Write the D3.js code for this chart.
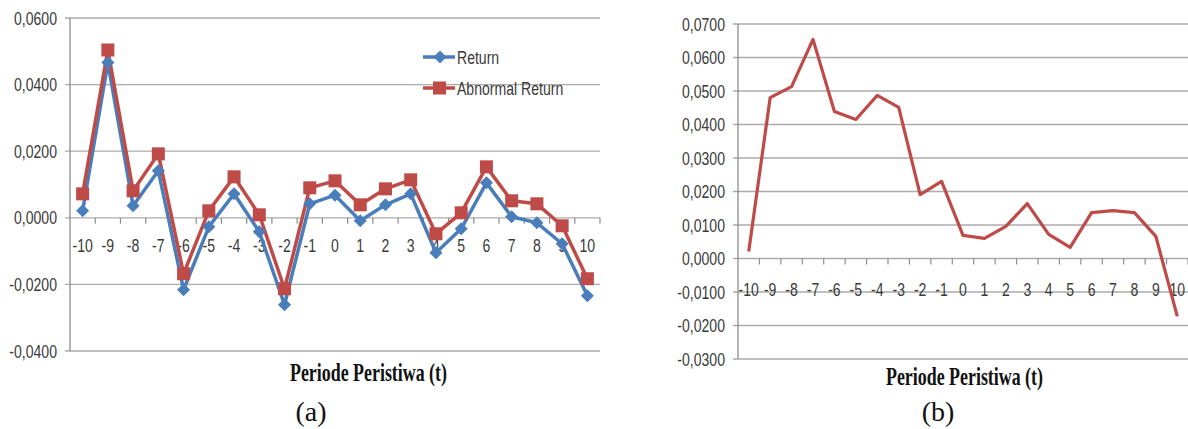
<!DOCTYPE html>
<html>
<head>
<meta charset="utf-8">
<script src="https://cdn.jsdelivr.net/npm/d3@7"></script>
<style>
  body { margin: 0; background: #fff; }
  svg { display: block; }
  .tick-label { font-family: "Liberation Sans", Arial, sans-serif; font-size: 19px; fill: #3a3a3a; }
  .title { font-family: "Liberation Serif", "Times New Roman", serif; font-weight: bold; font-size: 25px; fill: #111; }
  .caption { font-family: "Liberation Serif", "Times New Roman", serif; font-size: 28px; fill: #111; }
</style>
</head>
<body>
<script>
const width = 1188;
const height = 429;

// data
const periods = ["-10","-9","-8","-7","-6","-5","-4","-3","-2","-1","0","1","2","3","4","5","6","7","8","9","10"];
const returnA = [0.0021,0.0466,0.0036,0.0141,-0.0216,-0.0027,0.0072,-0.0042,-0.0261,0.0042,0.0068,-0.0009,0.0039,0.0072,-0.0105,-0.0033,0.0105,0.0003,-0.0015,-0.0078,-0.0234];
const abnormalA = [0.0072,0.0504,0.0081,0.0192,-0.0168,0.0021,0.0123,0.0009,-0.0213,0.0090,0.0111,0.0039,0.0087,0.0114,-0.0048,0.0015,0.0153,0.0051,0.0042,-0.0024,-0.0183];
const seriesB = [0.0021,0.0480,0.0513,0.0654,0.0439,0.0415,0.0487,0.0451,0.0191,0.0230,0.0069,0.0060,0.0096,0.0164,0.0072,0.0033,0.0137,0.0143,0.0137,0.0066,-0.0173];
const ticksA = [0.06,0.04,0.02,0,-0.02,-0.04];
const ticksB = [0.07,0.06,0.05,0.04,0.03,0.02,0.01,0,-0.01,-0.02,-0.03];

const blue = "#4a7ebb";
const red = "#be4b48";
const gridColor = "#ababab";
const squeeze = 0.74; // labels are horizontally condensed
const fmt = v => d3.format(".4f")(v).replace(".", ",").replace("−", "-");

const svg = d3.select("body").append("svg")
  .attr("width", width)
  .attr("height", height);

// draws one panel: grid, axes, labels
function panel(cfg) {
  const g = svg.append("g");
  const x = d3.scaleBand().domain(periods).range([cfg.left, cfg.right]).padding(0);
  const y = d3.scaleLinear().domain(cfg.domain).range([cfg.bottom, cfg.top]);

  // gridlines
  g.selectAll(".grid").data(cfg.ticks).enter().append("line")
    .attr("x1", cfg.left - 5).attr("x2", cfg.right)
    .attr("y1", d => y(d)).attr("y2", d => y(d))
    .attr("stroke", gridColor).attr("stroke-width", 1.3);

  // y axis line
  g.append("line")
    .attr("x1", cfg.left).attr("x2", cfg.left)
    .attr("y1", cfg.top).attr("y2", cfg.bottom)
    .attr("stroke", "#8c8c8c").attr("stroke-width", 1.3);

  // y labels
  g.selectAll(".ylab").data(cfg.ticks).enter().append("text")
    .attr("class", "tick-label")
    .attr("transform", d => `translate(${cfg.left - 13},${y(d)}) scale(${squeeze},1)`)
    .attr("dy", "0.35em")
    .attr("text-anchor", "end")
    .text(fmt);

  // x ticks on zero line
  const bounds = d3.range(1, periods.length + 1).map(i => cfg.left + i * x.bandwidth());
  g.selectAll(".xtick").data(bounds).enter().append("line")
    .attr("x1", d => d).attr("x2", d => d)
    .attr("y1", y(0)).attr("y2", y(0) + 6)
    .attr("stroke", "#8c8c8c").attr("stroke-width", 1.2);

  // x labels
  g.selectAll(".xlab").data(periods).enter().append("text")
    .attr("class", "tick-label")
    .attr("transform", d => `translate(${x(d) + x.bandwidth() / 2},${cfg.labelY}) scale(${squeeze},1)`)
    .attr("dy", "0.35em")
    .attr("text-anchor", "middle")
    .text(d => d);

  // axis title
  g.append("text")
    .attr("class", "title")
    .attr("x", cfg.titleX - 78)
    .attr("y", cfg.titleY)
    .attr("textLength", 157)
    .attr("lengthAdjust", "spacingAndGlyphs")
    .text("Periode Peristiwa (t)");

  // caption
  g.append("text")
    .attr("class", "caption")
    .attr("x", cfg.capX)
    .attr("y", 421)
    .attr("text-anchor", "middle")
    .text(cfg.caption);

  return { g, x, y };
}

/* == panel (a) == */
const a = panel({
  left: 70, right: 600, top: 18, bottom: 351,
  domain: [-0.04, 0.06], ticks: ticksA,
  labelY: 245, titleX: 368, titleY: 381, capX: 311, caption: "(a)"
});

const lineA = d3.line()
  .x((d, i) => a.x(periods[i]) + a.x.bandwidth() / 2)
  .y(d => a.y(d));

a.g.append("path").datum(returnA)
  .attr("fill", "none").attr("stroke", blue).attr("stroke-width", 3.5)
  .attr("stroke-linejoin", "round")
  .attr("d", lineA);
a.g.append("path").datum(abnormalA)
  .attr("fill", "none").attr("stroke", red).attr("stroke-width", 3.5)
  .attr("stroke-linejoin", "round")
  .attr("d", lineA);

const diamond = d3.symbol().type(d3.symbolSquare).size(85);
a.g.selectAll(".ret").data(returnA).enter().append("path")
  .attr("transform", (d, i) => `translate(${a.x(periods[i]) + a.x.bandwidth() / 2},${a.y(d)}) rotate(45)`)
  .attr("d", diamond)
  .attr("fill", blue);
a.g.selectAll(".abn").data(abnormalA).enter().append("rect")
  .attr("x", (d, i) => a.x(periods[i]) + a.x.bandwidth() / 2 - 6.5)
  .attr("y", d => a.y(d) - 6.5)
  .attr("width", 13).attr("height", 13)
  .attr("fill", red);

// legend
const legend = a.g.append("g");
const legendItems = [
  { name: "Return", color: blue, y: 57, shape: "diamond" },
  { name: "Abnormal Return", color: red, y: 88, shape: "square" }
];
legendItems.forEach(item => {
  legend.append("line")
    .attr("x1", 423).attr("x2", 455)
    .attr("y1", item.y).attr("y2", item.y)
    .attr("stroke", item.color).attr("stroke-width", 3.5);
  if (item.shape === "diamond") {
    legend.append("path")
      .attr("transform", `translate(440,${item.y}) rotate(45)`)
      .attr("d", diamond)
      .attr("fill", item.color);
  } else {
    legend.append("rect")
      .attr("x", 433).attr("y", item.y - 6.5)
      .attr("width", 13).attr("height", 13)
      .attr("fill", item.color);
  }
  legend.append("text")
    .attr("class", "tick-label")
    .attr("transform", `translate(457,${item.y}) scale(${squeeze},1)`)
    .attr("dy", "0.35em")
    .text(item.name);
});

/* == panel (b) == */
const b = panel({
  left: 738, right: 1188, top: 24, bottom: 359,
  domain: [-0.03, 0.07], ticks: ticksB,
  labelY: 289, titleX: 964, titleY: 385, capX: 938, caption: "(b)"
});

const lineB = d3.line()
  .x((d, i) => b.x(periods[i]) + b.x.bandwidth() / 2)
  .y(d => b.y(d));

b.g.append("path").datum(seriesB)
  .attr("fill", "none").attr("stroke", red).attr("stroke-width", 3.2)
  .attr("stroke-linejoin", "round")
  .attr("d", lineB);
</script>
</body>
</html>
